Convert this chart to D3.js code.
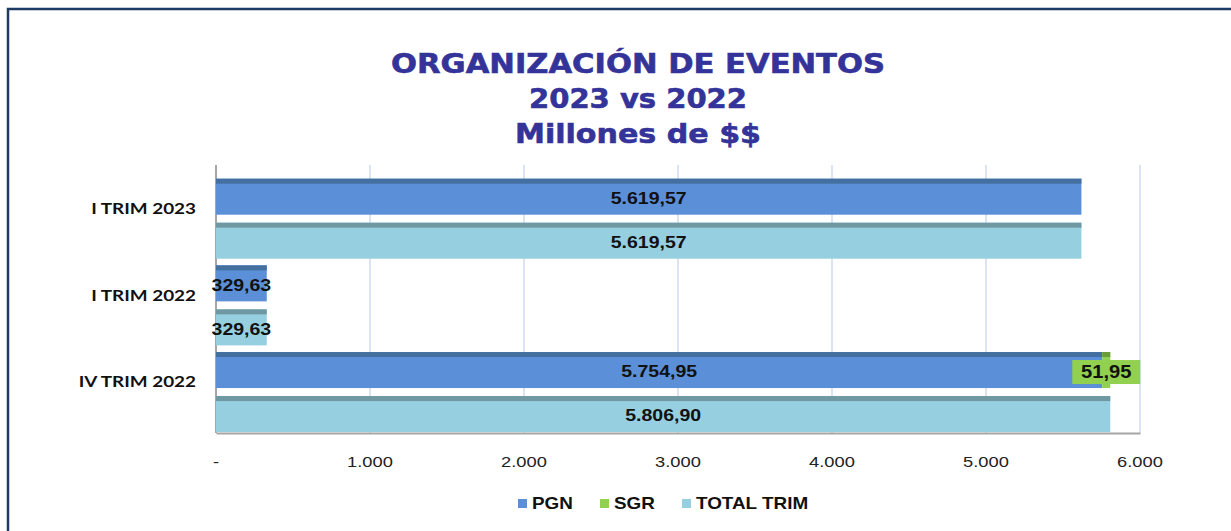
<!DOCTYPE html>
<html>
<head>
<meta charset="utf-8">
<script src="https://cdn.jsdelivr.net/npm/d3@7"></script>
<style>
  body { margin: 0; background: #fff; }
  svg { display: block; }
</style>
</head>
<body>
<div id="chart"></div>
<script>
// data
var categories = ["I TRIM 2023", "I TRIM 2022", "IV TRIM 2022"];
var pgnValues = [5619.57, 329.63, 5754.95];
var sgrValues = [0, 0, 51.95];
var totalValues = [5619.57, 329.63, 5806.90];
var xTicks = [0, 1000, 2000, 3000, 4000, 5000, 6000];
var titleLines = ["ORGANIZACIÓN DE EVENTOS", "2023 vs 2022", "Millones de $$"];
var legendItems = ["PGN", "SGR", "TOTAL TRIM"];

var svgWidth = 1231;
var svgHeight = 531;

var colors = {
  PGN: { body: "#5b8fd7", top: "#44709f" },
  SGR: { body: "#92d050", top: "#6a9c3a" },
  TOTAL: { body: "#96cfe0", top: "#6f98a3" }
};

// the source picture is a bit stretched sideways, so text gets a wider x-scale
var stretch = 1.22;

var svg = d3.select("#chart")
  .append("svg")
  .attr("width", svgWidth)
  .attr("height", svgHeight);

// outer frame (only top/left visible)
svg.append("path")
  .attr("d", "M8,540 L8,9 L1240,9")
  .attr("fill", "none")
  .attr("stroke", "#1f3a63")
  .attr("stroke-width", 2.5);

// title
var titleWidths = [494, 218, 246];
svg.append("g").selectAll("text")
  .data(titleLines)
  .enter()
  .append("text")
  .attr("x", 638)
  .attr("y", (d, i) => 73 + i * 35)
  .attr("text-anchor", "middle")
  .attr("textLength", (d, i) => titleWidths[i])
  .attr("lengthAdjust", "spacingAndGlyphs")
  .style("font-family", "'DejaVu Sans', sans-serif")
  .style("font-weight", "bold")
  .style("font-size", "27px")
  .style("fill", "#333399")
  .style("stroke", "#333399")
  .style("stroke-width", "0.6px")
  .text(d => d);

// helper: stretched text at a point
function addText(parent, px, py, str, opts) {
  var g = parent.append("g")
    .attr("transform", `translate(${px}, ${py}) scale(${opts.sx || stretch}, 1)`);
  g.append("text")
    .attr("text-anchor", opts.anchor || "middle")
    .attr("dominant-baseline", "central")
    .style("font-family", opts.family || "'Liberation Sans', Arial, sans-serif")
    .style("font-weight", opts.weight || "bold")
    .style("font-size", opts.size || "16px")
    .style("fill", opts.fill || "#111")
    .text(str);
  return g;
}

// scales
var x = d3.scaleLinear().domain([0, 6000]).range([216, 1140]);
var y = d3.scaleBand().domain(categories).range([175.7, 435.7]).paddingInner(0).paddingOuter(0);
var sub = d3.scaleBand().domain(["stack", "total"]).range([3, 83]).paddingInner(8 / 44);

var plotTop = 165, plotBottom = 433;

// gridlines
svg.append("g").selectAll("line")
  .data(xTicks.slice(1))
  .enter()
  .append("line")
  .attr("x1", d => x(d)).attr("x2", d => x(d))
  .attr("y1", plotTop).attr("y2", plotBottom)
  .attr("stroke", "#dbe5f1")
  .attr("stroke-width", 2);

// x axis
var tickFmt = d => d === 0 ? "-" : d3.format(",")(d).replace(/,/g, ".");
var xAxis = d3.axisBottom(x)
  .tickValues(xTicks)
  .tickSize(0)
  .tickFormat("");

var gx = svg.append("g")
  .attr("transform", `translate(0, ${plotBottom})`)
  .call(xAxis);
gx.select(".domain").attr("stroke", "#a6a6a6").attr("stroke-width", 2);
xTicks.forEach(function(t) {
  addText(svg, x(t), 462, tickFmt(t), { weight: "normal", size: "15px", fill: "#222" });
});

// y axis line
svg.append("line")
  .attr("x1", 216).attr("x2", 216)
  .attr("y1", plotTop).attr("y2", plotBottom)
  .attr("stroke", "#a6a6a6")
  .attr("stroke-width", 2);

// bars
var rows = categories.map((c, i) => ({
  cat: c, pgn: pgnValues[i], sgr: sgrValues[i], total: totalValues[i]
}));

var stripH = 5;

function drawBar(g, x0, x1, yTop, h, col) {
  g.append("rect")
    .attr("x", x0).attr("y", yTop)
    .attr("width", Math.max(0, x1 - x0)).attr("height", h)
    .attr("fill", col.body);
  g.append("rect")
    .attr("x", x0).attr("y", yTop)
    .attr("width", Math.max(0, x1 - x0)).attr("height", stripH)
    .attr("fill", col.top);
}

var barsG = svg.append("g");
rows.forEach(function(r) {
  var yStack = y(r.cat) + sub("stack");
  var yTotal = y(r.cat) + sub("total");
  var h = sub.bandwidth();
  drawBar(barsG, x(0), x(r.pgn), yStack, h, colors.PGN);
  if (r.sgr > 0) drawBar(barsG, x(r.pgn), x(r.pgn + r.sgr), yStack, h, colors.SGR);
  drawBar(barsG, x(0), x(r.total), yTotal, h, colors.TOTAL);
});

// value labels
var fmt = v => d3.format(",.2f")(v).replace(/,/g, "#").replace(/\./g, ",").replace(/#/g, ".");

rows.forEach(function(r) {
  var h = sub.bandwidth();
  var yStack = y(r.cat) + sub("stack") + h / 2 + 2;
  var yTotal = y(r.cat) + sub("total") + h / 2 + 2;
  addText(svg, (x(0) + x(r.pgn)) / 2, yStack, fmt(r.pgn), { size: "16px" });
  addText(svg, (x(0) + x(r.total)) / 2, yTotal, fmt(r.total), { size: "16px" });
  if (r.sgr > 0) {
    var cx = x(r.pgn + r.sgr / 2);
    svg.append("rect")
      .attr("x", cx - 34).attr("y", yStack - 12)
      .attr("width", 68).attr("height", 24)
      .attr("fill", colors.SGR.body);
    addText(svg, cx, yStack, fmt(r.sgr), { size: "18px", sx: 1.12 });
  }
});

// category labels
categories.forEach(function(c) {
  addText(svg, 196, y(c) + y.bandwidth() / 2 - 11, c, {
    anchor: "end", family: "Lato, 'Open Sans', sans-serif", size: "16px", sx: 1.18
  });
});

// legend
var legendX = [518, 600, 682];
var legendCols = [colors.PGN.body, colors.SGR.body, colors.TOTAL.body];
legendItems.forEach(function(name, i) {
  svg.append("rect")
    .attr("x", legendX[i]).attr("y", 499)
    .attr("width", 9).attr("height", 9)
    .attr("fill", legendCols[i]);
  addText(svg, legendX[i] + 14, 504, name, { anchor: "start", size: "16px", sx: 1.18 });
});
</script>
</body>
</html>
